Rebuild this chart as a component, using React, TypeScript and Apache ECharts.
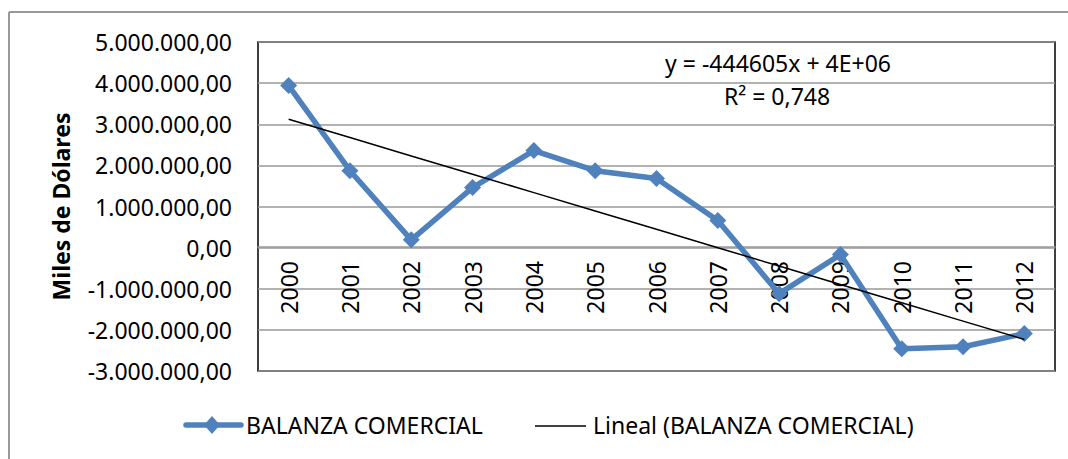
import React, { useEffect, useRef } from "react";
import * as echarts from "echarts";

const years = ["2000","2001","2002","2003","2004","2005","2006","2007","2008","2009","2010","2011","2012"];
const balanza = [3940000, 1870000, 190000, 1460000, 2360000, 1870000, 1680000, 660000, -1120000, -170000, -2460000, -2410000, -2090000];
const yTicksMin = -3000000;
const yTicksMax = 5000000;
const yInterval = 1000000;
const equationText = "y = -444605x + 4E+06";
const r2Text = "R² = 0,748";
const seriesName = "BALANZA COMERCIAL";
const trendName = "Lineal (BALANZA COMERCIAL)";

function linearTrend(vals: number[]): number[] {
  const n = vals.length;
  const xs = vals.map((_, i) => i + 1);
  const mx = xs.reduce((a, b) => a + b, 0) / n;
  const my = vals.reduce((a, b) => a + b, 0) / n;
  let sxy = 0, sxx = 0;
  for (let i = 0; i < n; i++) {
    sxy += (xs[i] - mx) * (vals[i] - my);
    sxx += (xs[i] - mx) * (xs[i] - mx);
  }
  const slope = sxy / sxx;
  const b = my - slope * mx;
  return xs.map((x) => slope * x + b);
}

function fmt(v: number): string {
  const neg = v < 0;
  const s = Math.abs(Math.round(v)).toString().replace(/\B(?=(\d{3})+(?!\d))/g, ".");
  return (neg ? "-" : "") + s + ",00";
}

const FONT = "'Noto Sans', 'Open Sans', sans-serif";
const FS = 23;
const BLUE = "#4F81BD";

export default function App() {
  const ref = useRef<HTMLDivElement>(null);
  useEffect(() => {
    document.body.style.margin = "0";
    document.body.style.overflow = "hidden";
    const chart = echarts.init(ref.current!, null, { renderer: "svg" });
    const trend = linearTrend(balanza);
    const ly = 425;
    chart.setOption({
      animation: false,
      textStyle: { fontFamily: FONT },
      grid: {
        left: 258,
        top: 42,
        right: 13,
        bottom: 88,
        show: true,
        borderColor: "#000",
        borderWidth: 1.5,
      },
      xAxis: {
        type: "category",
        data: years,
        boundaryGap: true,
        offset: -124,
        axisLine: { onZero: false, lineStyle: { color: "#999", width: 1.5 } },
        axisTick: { show: false },
        axisLabel: { rotate: 90, margin: 14, fontSize: FS, color: "#000", fontFamily: FONT },
        splitLine: { show: false },
      },
      yAxis: {
        type: "value",
        min: yTicksMin,
        max: yTicksMax,
        interval: yInterval,
        name: "Miles de Dólares",
        nameLocation: "middle",
        nameGap: 186,
        nameTextStyle: { fontSize: FS, fontWeight: "bold", color: "#000", fontFamily: FONT },
        axisLine: { show: false },
        axisTick: { show: false },
        axisLabel: { formatter: (v: number) => fmt(v), fontSize: FS, color: "#000", margin: 26, fontFamily: FONT },
        splitLine: { lineStyle: { color: "#999", width: 1.5 } },
      },
      legend: { show: false },
      graphic: [
        {
          type: "rect",
          shape: { x: 1057, y: 14, width: 11, height: 445 },
          style: { fill: "#fff" },
          z: 100,
          silent: true,
        },
        {
          type: "line",
          shape: { x1: 9, y1: 12, x2: 1068, y2: 12 },
          style: { stroke: "#999", lineWidth: 2 },
          z: 101,
          silent: true,
        },
        {
          type: "line",
          shape: { x1: 9, y1: 12, x2: 9, y2: 459 },
          style: { stroke: "#999", lineWidth: 2 },
          silent: true,
        },
        {
          type: "text",
          x: 778,
          y: 63,
          style: { text: equationText, font: `${FS}px ${FONT}`, fill: "#000", textAlign: "center", textVerticalAlign: "middle" },
        },
        {
          type: "text",
          x: 777,
          y: 96,
          style: { text: r2Text, font: `${FS}px ${FONT}`, fill: "#000", textAlign: "center", textVerticalAlign: "middle" },
        },
        {
          type: "line",
          shape: { x1: 186, y1: ly, x2: 241, y2: ly },
          style: { stroke: BLUE, lineWidth: 5.5, lineCap: "round" },
        },
        {
          type: "polygon",
          shape: { points: [[212, ly - 9], [220, ly], [212, ly + 9], [204, ly]] },
          style: { fill: BLUE },
        },
        {
          type: "text",
          x: 246,
          y: ly,
          style: { text: seriesName, font: `${FS}px ${FONT}`, fill: "#000", textAlign: "left", textVerticalAlign: "middle" },
        },
        {
          type: "line",
          shape: { x1: 535, y1: ly + 1, x2: 586, y2: ly + 1 },
          style: { stroke: "#000", lineWidth: 1.5 },
        },
        {
          type: "text",
          x: 593,
          y: ly,
          style: { text: trendName, font: `${FS}px ${FONT}`, fill: "#000", textAlign: "left", textVerticalAlign: "middle" },
        },
      ],
      series: [
        {
          name: seriesName,
          type: "line",
          data: balanza,
          symbol: "diamond",
          symbolSize: 17,
          itemStyle: { color: BLUE },
          lineStyle: { color: BLUE, width: 5.5 },
          z: 2,
        },
        {
          name: trendName,
          type: "line",
          data: trend,
          symbol: "none",
          itemStyle: { color: "#000" },
          lineStyle: { color: "#000", width: 1.5 },
          z: 3,
        },
      ],
    });
    return () => chart.dispose();
  }, []);
  return <div ref={ref} style={{ width: 1068, height: 459 }} />;
}
